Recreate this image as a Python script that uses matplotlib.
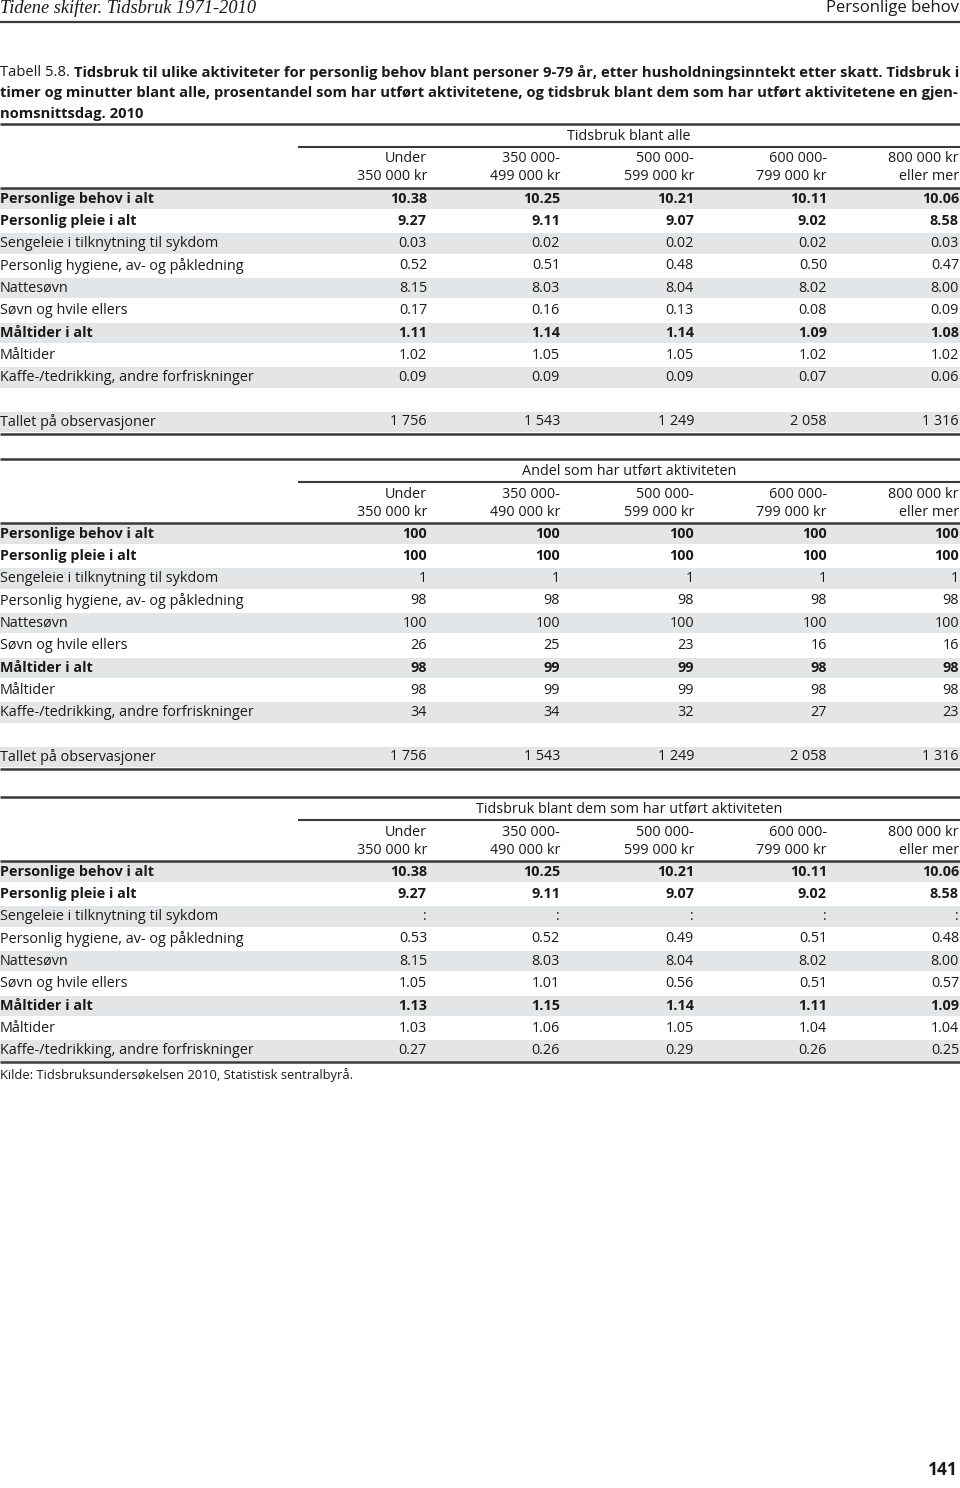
import matplotlib
matplotlib.use("Agg")
import matplotlib.pyplot as plt
from matplotlib import font_manager

# ---------------- data ----------------
row_labels = [
    "Personlige behov i alt",
    "Personlig pleie i alt",
    "Sengeleie i tilknytning til sykdom",
    "Personlig hygiene, av- og påkledning",
    "Nattesøvn",
    "Søvn og hvile ellers",
    "Måltider i alt",
    "Måltider",
    "Kaffe-/tedrikking, andre forfriskninger",
]
row_bold = [True, True, False, False, False, False, True, False, False]

col_headers_1 = [("Under", "350 000 kr"), ("350 000-", "499 000 kr"), ("500 000-", "599 000 kr"),
                 ("600 000-", "799 000 kr"), ("800 000 kr", "eller mer")]
col_headers_2 = [("Under", "350 000 kr"), ("350 000-", "490 000 kr"), ("500 000-", "599 000 kr"),
                 ("600 000-", "799 000 kr"), ("800 000 kr", "eller mer")]

time_all = [
    [10.38, 10.25, 10.21, 10.11, 10.06],
    [9.27, 9.11, 9.07, 9.02, 8.58],
    [0.03, 0.02, 0.02, 0.02, 0.03],
    [0.52, 0.51, 0.48, 0.50, 0.47],
    [8.15, 8.03, 8.04, 8.02, 8.00],
    [0.17, 0.16, 0.13, 0.08, 0.09],
    [1.11, 1.14, 1.14, 1.09, 1.08],
    [1.02, 1.05, 1.05, 1.02, 1.02],
    [0.09, 0.09, 0.09, 0.07, 0.06],
]
share_done = [
    [100, 100, 100, 100, 100],
    [100, 100, 100, 100, 100],
    [1, 1, 1, 1, 1],
    [98, 98, 98, 98, 98],
    [100, 100, 100, 100, 100],
    [26, 25, 23, 16, 16],
    [98, 99, 99, 98, 98],
    [98, 99, 99, 98, 98],
    [34, 34, 32, 27, 23],
]
time_doers = [
    [10.38, 10.25, 10.21, 10.11, 10.06],
    [9.27, 9.11, 9.07, 9.02, 8.58],
    [None, None, None, None, None],
    [0.53, 0.52, 0.49, 0.51, 0.48],
    [8.15, 8.03, 8.04, 8.02, 8.00],
    [1.05, 1.01, 0.56, 0.51, 0.57],
    [1.13, 1.15, 1.14, 1.11, 1.09],
    [1.03, 1.06, 1.05, 1.04, 1.04],
    [0.27, 0.26, 0.29, 0.26, 0.25],
]
observations = [1756, 1543, 1249, 2058, 1316]

section_titles = ["Tidsbruk blant alle", "Andel som har utført aktiviteten",
                  "Tidsbruk blant dem som har utført aktiviteten"]

# ---------------- fonts ----------------
avail = {f.name for f in font_manager.fontManager.ttflist}
SANS = "Liberation Sans Narrow" if "Liberation Sans Narrow" in avail else "Open Sans"
SERIF = "Liberation Serif"

FS = 10.4
SHADE = "#e4e5e6"
RULE = "#3a3a3a"

fig = plt.figure(figsize=(9.6, 14.88), dpi=100)
ax = fig.add_axes([0, 0, 1, 1])
ax.set_xlim(0, 960)
ax.set_ylim(1488, 0)
ax.axis("off")

col_x = [427, 560, 694, 827, 959]
span_left = 298

def txt(x, y, s, ha="left", bold=False, size=FS, family=SANS, **kw):
    ax.text(x, y, s, ha=ha, va="center", fontsize=size, family=family,
            fontweight="bold" if bold else "normal", color="#1a1a1a", **kw)

def rule(y, x0=0, x1=960, lw=1.8):
    ax.plot([x0, x1], [y, y], color=RULE, lw=lw, solid_capstyle="butt")

def band(yc, h=20.5):
    ax.add_patch(plt.Rectangle((0, yc - h / 2), 960, h, color=SHADE, lw=0, zorder=0))

# ---------------- page header ----------------
txt(0, 8.5, "Tidene skifter. Tidsbruk 1971-2010", family=SERIF, size=13.2, style="italic")
txt(959, 8.5, "Personlige behov", ha="right", size=12.0)
rule(22, lw=1.6)

# caption
CAP_FS = 10.65
cap_lines = [
    ("Tabell 5.8. ", "Tidsbruk til ulike aktiviteter for personlig behov blant personer 9-79 år, etter husholdningsinntekt etter skatt. Tidsbruk i"),
    ("", "timer og minutter blant alle, prosentandel som har utført aktivitetene, og tidsbruk blant dem som har utført aktivitetene en gjen-"),
    ("", "nomsnittsdag. 2010"),
]
for i, (pre, body) in enumerate(cap_lines):
    y = 73 + i * 20.5
    if pre:
        t = ax.text(0, y, pre, ha="left", va="center", fontsize=CAP_FS, family=SANS, color="#1a1a1a")
        fig.canvas.draw()
        bb = t.get_window_extent()
        x0 = bb.x1 + 0.5
        ax.text(x0, y, body, ha="left", va="center", fontsize=CAP_FS, family=SANS,
                fontweight="bold", color="#1a1a1a")
    else:
        txt(0, y, body, bold=True, size=CAP_FS)


def fmt_dec(v):
    return ":" if v is None else f"{v:.2f}"

def fmt_int(v):
    return f"{v:,}".replace(",", " ")

def section(top, title, headers, values, fmt, with_obs):
    rule(top, lw=1.8)
    txt(629, top + 12, title, ha="center")
    rule(top + 23, x0=span_left, lw=1.5)
    for c, (h1, h2) in enumerate(headers):
        txt(col_x[c], top + 35, h1, ha="right")
        txt(col_x[c], top + 53, h2, ha="right")
    rule(top + 64, lw=1.8)
    y0 = top + 75
    pitch = 22.3
    for r, lab in enumerate(row_labels):
        y = y0 + r * pitch
        if r % 2 == 0:
            band(y)
        txt(0, y, lab, bold=row_bold[r])
        for c in range(5):
            txt(col_x[c], y, fmt(values[r][c]), ha="right", bold=row_bold[r])
    last = y0 + (len(row_labels) - 1) * pitch
    if with_obs:
        y = last + 44.5
        band(y)
        txt(0, y, "Tallet på observasjoner")
        for c in range(5):
            txt(col_x[c], y, fmt_int(observations[c]), ha="right")
        rule(y + 12, lw=1.8)
    else:
        rule(last + 11.5, lw=1.8)
    return last

section(124, section_titles[0], col_headers_1, time_all, fmt_dec, True)
section(459, section_titles[1], col_headers_2, share_done, fmt_int, True)
last = section(797, section_titles[2], col_headers_2, time_doers, fmt_dec, False)

txt(0, 1075, "Kilde: Tidsbruksundersøkelsen 2010, Statistisk sentralbyrå.", size=9.3)
txt(958, 1470, "141", ha="right", bold=True, size=12.5)

fig.savefig("out.png", dpi=100)
